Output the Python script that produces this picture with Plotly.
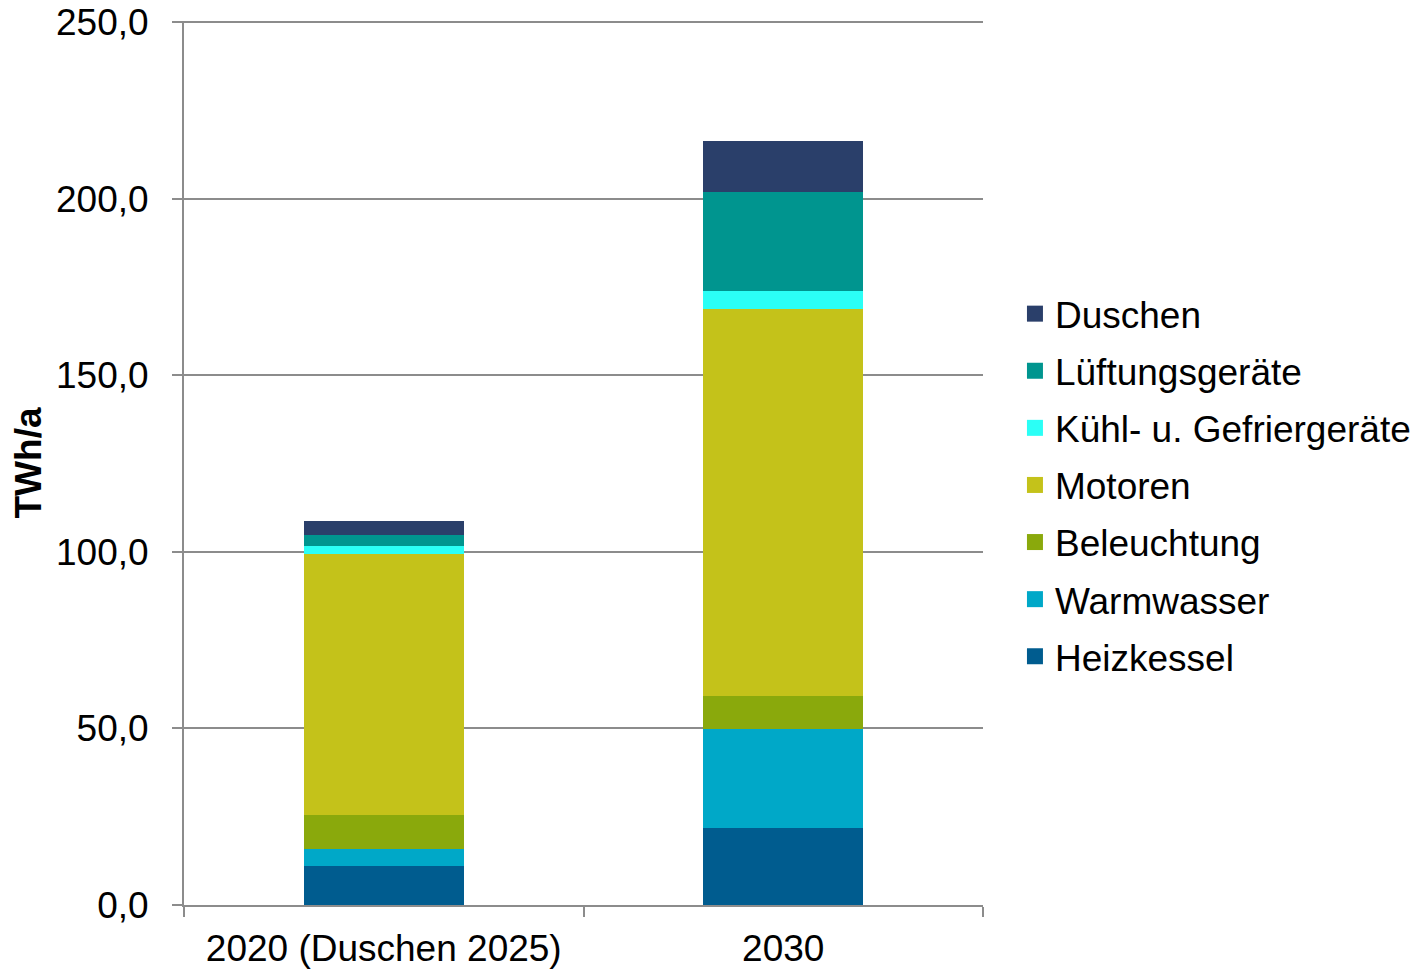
import plotly.graph_objects as go

categories = ["2020 (Duschen 2025)", "2030"]
series_names = ["Heizkessel", "Warmwasser", "Beleuchtung", "Motoren",
                "Kühl- u. Gefriergeräte", "Lüftungsgeräte", "Duschen"]
heizkessel = [11.0, 21.9]
warmwasser = [4.9, 27.8]
beleuchtung = [9.7, 9.6]
motoren = [73.9, 109.4]
kuehl = [2.2, 5.1]
lueftung = [3.1, 28.2]
duschen = [3.8, 14.2]
series_values = [heizkessel, warmwasser, beleuchtung, motoren, kuehl, lueftung, duschen]
colors = ["#005C8F", "#00A8C8", "#8AA90C", "#C4C21A", "#2BFFF6", "#00958F", "#2A3F6A"]
y_ticks = [0, 50, 100, 150, 200, 250]

FONT = "Liberation Sans, Arial, sans-serif"
FS = 37

fig = go.Figure()
for name, vals, col in zip(series_names, series_values, colors):
    fig.add_trace(go.Bar(x=categories, y=vals, name=name, marker_color=col,
                         marker_line_width=0, showlegend=False))
# legend entries (square swatches), top to bottom: Duschen ... Heizkessel
for name, col in reversed(list(zip(series_names, colors))):
    fig.add_trace(go.Scatter(x=[None], y=[None], mode="markers", name=name,
                             legendgroup="lg_" + name,
                             marker=dict(symbol="square", size=19, color=col)))

fig.update_layout(
    width=1413, height=962,
    barmode="stack", bargap=0.6,
    separators=",.",
    plot_bgcolor="white", paper_bgcolor="white",
    margin=dict(l=176, r=438, t=13, b=65, autoexpand=False),
    font=dict(family=FONT, size=FS, color="black"),
    showlegend=True,
    legend=dict(x=1.04, y=0.475, xanchor="left", yanchor="middle",
                traceorder="grouped", tracegroupgap=6,
                font=dict(size=FS), itemwidth=30,
                bgcolor="rgba(0,0,0,0)"),
)
fig.update_xaxes(
    type="category", automargin=False, showline=True, linecolor="#8C8C8C", linewidth=2,
    ticks="outside", tickson="boundaries", ticklen=10, tickcolor="#8C8C8C",
    tickwidth=2, showgrid=False, tickfont=dict(size=FS), ticklabelstandoff=10,
)
fig.update_yaxes(
    range=[0, 250.3], tickvals=y_ticks, tickformat=".1f", automargin=False,
    showline=True, linecolor="#8C8C8C", linewidth=2,
    ticks="outside", ticklen=10, tickcolor="#8C8C8C", tickwidth=2,
    ticklabelstandoff=16, ticklabeloverflow="allow",
    showgrid=True, gridcolor="#8C8C8C", gridwidth=2,
    zeroline=False, tickfont=dict(size=FS),
    title=dict(text="<b>TWh/a</b>", font=dict(size=FS), standoff=4),
)
fig.write_html("out.html")
